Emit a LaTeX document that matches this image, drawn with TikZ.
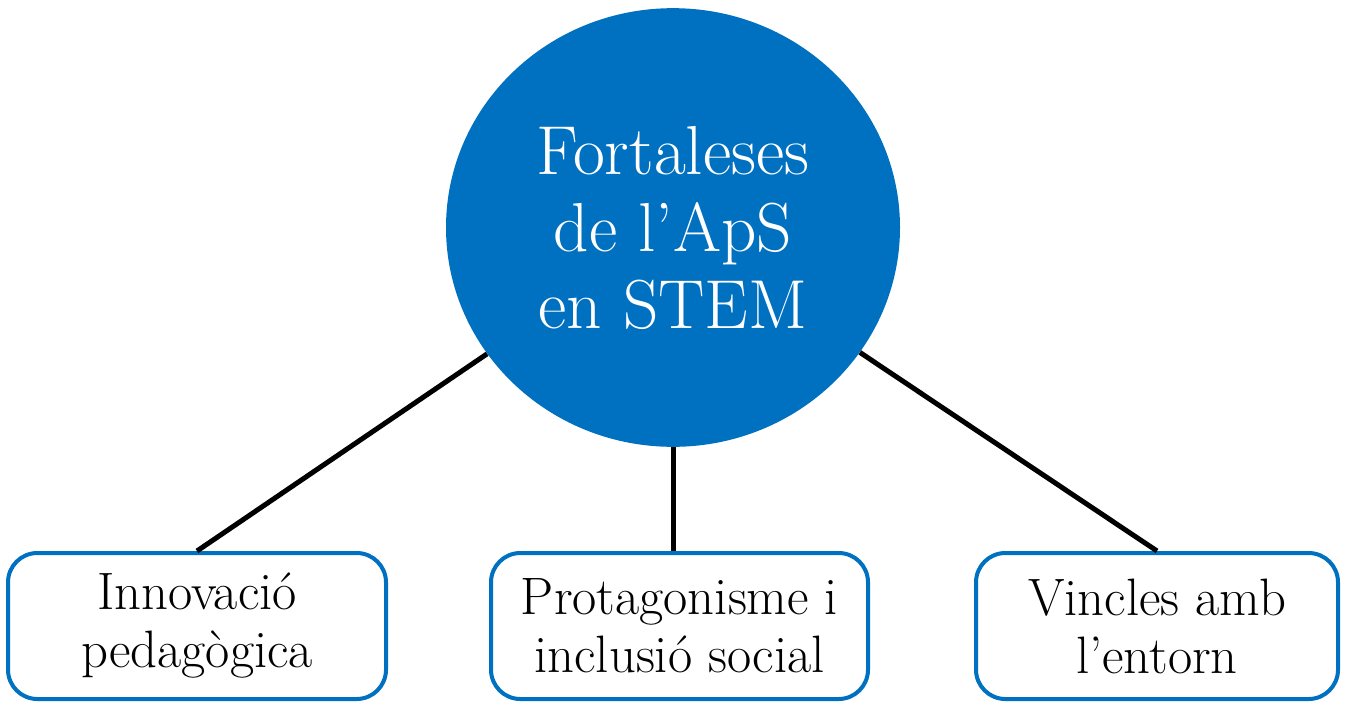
\documentclass[tikz,border=0pt]{standalone}
\usepackage{fontspec}
\usepackage{tikz}
\usetikzlibrary{positioning,shapes.geometric}
\definecolor{apsblue}{HTML}{0070C0}

\begin{document}
\begin{tikzpicture}[x=0.75pt,y=-0.75pt,
  hub/.style={ellipse,fill=apsblue,text=white,align=center,inner sep=0pt,
    minimum width=340.5pt,minimum height=329pt,font=\fontsize{52}{57.75}\selectfont},
  leaf/.style={draw=apsblue,line width=3pt,rounded corners=22pt,fill=white,align=center,
    minimum height=109.5pt,font=\fontsize{39.5}{43.5}\selectfont},
  link/.style={line width=3.75pt,black}]
  \useasboundingbox (0,0) rectangle (1348,703);
  \node[hub] (fort) at (673,227.5) {Fortaleses\\de l’ApS\\en STEM};
  \node[leaf,minimum width=283.5pt] (innov) at (197,626) {Innovació\\pedagògica};
  \node[leaf,minimum width=282.75pt] (prota) at (679.5,626) {Protagonisme i\\inclusió social};
  \node[leaf,minimum width=271.5pt] (vinc) at (1157,626) {Vincles amb\\l’entorn};
  \draw[link] (innov.north) -- (fort);
  \draw[link] (fort.south) -- (fort.south |- prota.north);
  \draw[link] (vinc.north) -- (fort);
\end{tikzpicture}
\end{document}
